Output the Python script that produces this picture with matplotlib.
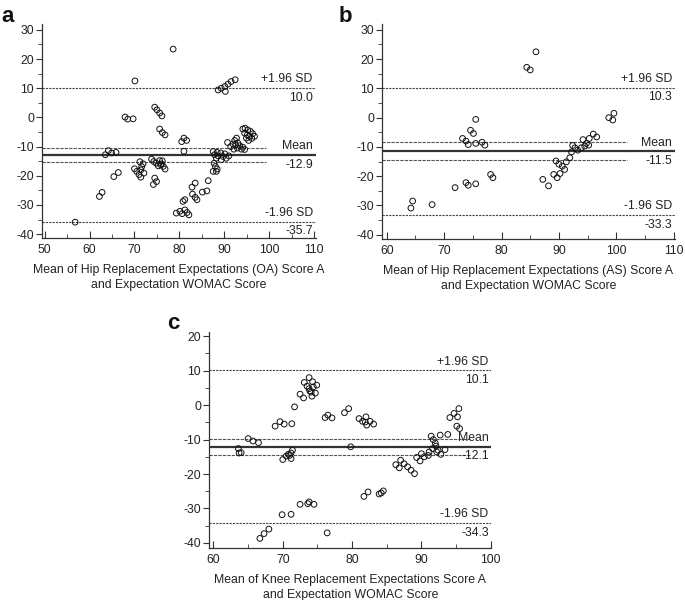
import matplotlib
matplotlib.use("Agg")
import matplotlib.pyplot as plt
from matplotlib.ticker import MultipleLocator

plt.rcParams["font.family"] = ["Liberation Sans", "DejaVu Sans"]
plt.rcParams["axes.unicode_minus"] = False

# panel a: hip replacement (OA)
hip_oa_mean = [56.8, 62.2, 62.8, 63.5, 64.2, 64.9, 65.9, 65.4, 66.4, 67.9, 68.5, 69.7, 70.1,
               70.0, 70.5, 71.0, 71.4, 71.2, 71.6, 71.9, 72.1, 71.4,
               73.8, 74.3, 74.8, 75.3, 75.6, 76.0, 76.4, 76.8, 75.8, 76.2,
               74.5, 74.9, 74.2, 74.5, 75.0, 75.6, 76.1, 75.6, 76.2, 76.8, 78.6,
               80.5, 81.0, 81.6, 81.0,
               79.3, 80.1, 80.6, 81.2, 81.7, 82.1, 80.8, 81.2,
               82.8, 83.5, 82.9, 83.5, 83.9, 85.1, 86.1, 86.4,
               87.5, 87.8, 88.2, 88.6, 89.2, 89.7, 90.1, 90.4, 91.0, 88.4, 89.3,
               87.7, 88.0, 88.4, 87.5, 88.2, 90.7,
               88.6, 89.3, 90.2, 90.1, 90.8, 91.5, 92.4,
               91.4, 91.9, 92.3, 92.7, 93.0, 93.4, 93.8, 94.1, 94.5, 92.9, 92.5, 92.1,
               94.1, 94.6, 95.2, 95.8, 96.3, 96.7, 94.5, 95.1, 95.6, 96.1, 94.9, 95.4]
hip_oa_diff = [-35.9, -27.1, -25.7, -12.8, -11.4, -12.2, -12.0, -20.3, -18.9, 0.1, -0.6, -0.5, 12.5,
               -17.6, -18.5, -19.6, -20.5, -15.2, -16.9, -15.9, -19.1, -18.0,
               -14.3, -15.1, -15.7, -16.6, -14.8, -15.9, -16.8, -17.7, -16.2, -14.9,
               -20.8, -22.0, -23.0, 3.5, 2.6, 1.5, 0.5, -4.0, -5.2, -6.0, 23.4,
               -8.3, -7.1, -7.9, -11.6,
               -32.8, -32.2, -33.0, -31.7, -32.6, -33.4, -28.8, -28.2,
               -23.9, -22.5, -26.3, -27.4, -28.2, -25.6, -25.2, -21.7,
               -11.7, -12.8, -14.0, -13.2, -12.2, -13.4, -12.5, -14.0, -13.2, -12.0, -14.5,
               -15.7, -16.8, -17.7, -18.5, -18.5, -8.6,
               9.4, 10.0, 8.9, 10.6, 11.4, 12.3, 12.9,
               -10.0, -9.1, -7.9, -7.1, -8.8, -9.7, -10.9, -10.2, -11.0, -10.5, -9.4, -10.9,
               -4.0, -3.7, -4.3, -4.8, -5.6, -6.5, -5.4, -6.0, -6.5, -7.2, -7.1, -7.9]

# panel b: hip replacement (AS)
hip_as_mean = [64.2, 64.5, 67.9, 71.9, 73.8, 74.2, 75.5, 73.2, 73.8, 74.2, 74.6, 75.1, 75.5,
               75.5, 76.6, 77.1, 78.1, 78.5, 84.4, 85.0, 86.0,
               87.2, 88.2, 89.1, 89.7, 90.2, 89.5, 90.0, 90.6, 91.0, 91.3, 91.9, 92.2,
               92.4, 92.8, 93.3, 93.9, 94.2, 94.5, 94.8, 95.2, 95.3, 96.0, 96.6,
               98.7, 99.6, 99.4]
hip_as_diff = [-30.9, -28.5, -29.7, -23.9, -22.2, -23.1, -22.6, -7.1, -8.0, -9.2, -4.3, -5.4, -0.6,
               -8.8, -8.4, -9.4, -19.4, -20.5, 17.2, 16.3, 22.5,
               -21.1, -23.3, -19.4, -20.5, -19.1, -14.8, -15.9, -16.6, -17.7, -15.1, -13.7, -11.7,
               -9.5, -10.3, -11.1, -10.3, -7.5, -9.7, -8.8, -9.4, -7.1, -5.6, -6.6,
               0.0, 1.5, -0.8]

# panel c: knee replacement
knee_mean = [63.6, 63.7, 64.0, 65.0, 65.7, 66.5, 66.7, 67.3, 68.0,
             68.9, 69.6, 70.2, 71.3, 70.0, 70.5, 70.8, 71.2, 71.2, 71.4, 71.0,
             69.9, 71.2, 71.7, 72.5, 73.0,
             73.1, 73.8, 73.5, 73.9, 74.3, 74.2, 74.7, 74.9, 73.8, 74.1, 74.4,
             72.5, 73.6, 73.8, 74.5, 76.4, 76.1, 76.5, 77.1, 78.9, 79.5, 79.8,
             81.0, 81.5, 82.0, 82.1, 82.6, 83.1, 81.9,
             81.7, 82.3, 83.9, 84.2, 84.5,
             86.3, 86.8, 87.0, 87.5, 88.0, 88.5, 89.0,
             89.3, 89.8, 90.0, 90.4, 91.1, 91.4, 91.7, 92.0, 92.1, 92.4, 92.8, 92.7,
             93.4, 93.8, 91.6, 92.2, 91.0,
             94.1, 94.7, 95.2, 95.4, 95.1, 95.5]
knee_diff = [-12.6, -13.9, -13.8, -9.7, -10.4, -10.9, -38.7, -37.3, -36.0,
             -6.1, -4.8, -5.5, -5.4, -15.8, -14.8, -14.3, -15.5, -13.9, -13.1, -14.6,
             -31.8, -31.7, -0.5, 3.2, 2.1,
             6.6, 8.0, 5.5, 4.1, 6.8, 2.6, 3.5, 5.8, 4.8, 3.8, 5.3,
             -28.8, -28.6, -28.1, -28.8, -37.1, -3.6, -2.9, -3.7, -2.2, -1.0, -12.1,
             -3.9, -4.7, -3.4, -5.8, -4.7, -5.5, -4.9,
             -26.5, -25.2, -25.8, -25.5, -24.9,
             -17.3, -18.2, -16.0, -17.0, -17.9, -18.9, -19.9,
             -15.2, -16.2, -14.1, -15.0, -13.6, -9.0, -10.0, -11.0, -11.9, -13.1, -14.3, -8.7,
             -12.9, -8.5, -12.6, -13.6, -14.6,
             -3.6, -2.4, -3.4, -1.0, -6.1, -6.8]

# limits of agreement: mean, ci low/high, -1.96 SD, +1.96 SD
hip_oa_limits = [-12.9, -15.2, -10.6, -35.7, 10.0]
hip_as_limits = [-11.5, -14.5, -8.4, -33.3, 10.3]
knee_limits = [-12.1, -14.4, -9.8, -34.3, 10.1]

hip_oa_label = "Mean of Hip Replacement Expectations (OA) Score A\nand Expectation WOMAC Score"
hip_as_label = "Mean of Hip Replacement Expectations (AS) Score A\nand Expectation WOMAC Score"
knee_label = "Mean of Knee Replacement Expectations Score A\nand Expectation WOMAC Score"

TEXT = "#222222"
FS = 8.8


def bland_altman(ax, x, y, limits, xlim, ylim, ci_end, xlabel, letter):
    mean, ci_lo, ci_hi, lo_sd, hi_sd = limits
    ax.set_xlim(*xlim)
    ax.set_ylim(*ylim)
    x0, x1 = xlim
    ax.hlines([hi_sd, lo_sd], x0, x1, colors="#444444", linestyles=(0, (2, 1)), linewidth=0.8)
    ax.hlines([ci_lo, ci_hi], x0, ci_end, colors="#555555", linestyles=(0, (3, 1)), linewidth=0.8)
    ax.hlines(mean, x0, x1, colors="#333333", linewidth=1.6)
    ax.scatter(x, y, s=17, facecolors="none", edgecolors="#111111", linewidths=0.7, zorder=3)

    for val, top, bottom in [(hi_sd, "+1.96 SD", "%.1f" % hi_sd),
                             (mean, "Mean", "%.1f" % mean),
                             (lo_sd, "-1.96 SD", "%.1f" % lo_sd)]:
        ax.annotate(top, xy=(x1, val), xytext=(-2, 2), textcoords="offset points",
                    ha="right", va="bottom", fontsize=FS, color=TEXT)
        ax.annotate(bottom, xy=(x1, val), xytext=(-2, -2.5), textcoords="offset points",
                    ha="right", va="top", fontsize=FS, color=TEXT)

    for side in ["top", "right"]:
        ax.spines[side].set_visible(False)
    for side in ["left", "bottom"]:
        ax.spines[side].set_color("#333333")
        ax.spines[side].set_linewidth(0.9)
    ax.xaxis.set_major_locator(MultipleLocator(10))
    ax.xaxis.set_minor_locator(MultipleLocator(5))
    ax.yaxis.set_major_locator(MultipleLocator(10))
    ax.yaxis.set_minor_locator(MultipleLocator(5))
    ax.tick_params(axis="x", which="both", direction="in", colors="#333333", labelcolor=TEXT,
                   labelsize=FS, pad=4)
    ax.tick_params(axis="x", which="major", length=5)
    ax.tick_params(axis="x", which="minor", length=3)
    ax.tick_params(axis="y", which="both", direction="out", colors="#333333", labelcolor=TEXT,
                   labelsize=FS, pad=2)
    ax.tick_params(axis="y", which="major", length=4)
    ax.tick_params(axis="y", which="minor", length=3)
    ax.set_xlabel(xlabel, fontsize=FS, color=TEXT, labelpad=6, linespacing=1.35)
    ax.text(-0.15, 1.085, letter, transform=ax.transAxes, fontsize=16, fontweight="bold",
            ha="left", va="top", color="#111111")


def main():
    fig = plt.figure(figsize=(6.85, 6.0), dpi=100)
    ax_a = fig.add_axes([0.0618, 0.603, 0.399, 0.357])
    ax_b = fig.add_axes([0.558, 0.601, 0.427, 0.359])
    ax_c = fig.add_axes([0.3055, 0.086, 0.412, 0.361])

    bland_altman(ax_a, hip_oa_mean, hip_oa_diff, hip_oa_limits, (49.5, 110.3), (-41.4, 32),
                 99.3, hip_oa_label, "a")
    bland_altman(ax_b, hip_as_mean, hip_as_diff, hip_as_limits, (59.2, 110.2), (-41.6, 32),
                 101.8, hip_as_label, "b")
    bland_altman(ax_c, knee_mean, knee_diff, knee_limits, (59.4, 100.1), (-41.6, 21.3),
                 97.0, knee_label, "c")

    fig.savefig("out.png", dpi=100, facecolor="white")


if __name__ == "__main__":
    main()
